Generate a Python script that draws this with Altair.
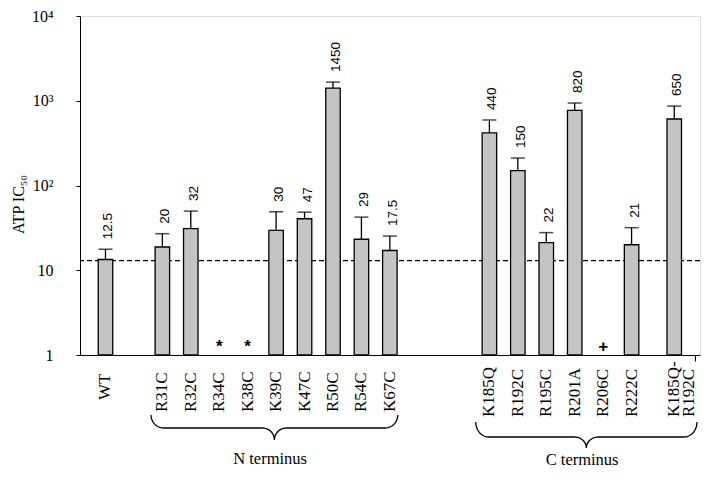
import altair as alt
import numpy as np
import pandas as pd

# ---------------- data ----------------
names = ["WT", "R31C", "R32C", "R34C", "K38C", "K39C", "K47C", "R50C", "R54C", "K67C",
         "K185Q", "R192C", "R195C", "R201A", "R206C", "R222C", "K185Q-\nR192C"]
groups = ["WT"] + ["N"] * 9 + ["C"] * 7
bar_values = [13.4, 18.8, 31, None, None, 29.5, 40.5, 1410, 23.2, 17.1,
              417, 150, 21.2, 769, None, 20, 609]
err_tops = [17.7, 27, 49.9, None, None, 49, 48.5, 1660, 42.4, 25.3,
            593, 211, 27.8, 940, None, 31.8, 865]
value_labels = ["12.5", "20", "32", "", "", "30", "47", "1450", "29", "17.5",
                "440", "150", "22", "820", "", "21", "650"]
markers = ["", "", "", "*", "*", "", "", "", "", "",
           "", "", "", "", "+", "", ""]
wt_reference = 13
group_titles = {"N": "N terminus", "C": "C terminus"}

# ---------------- layout (spacing between categories) ----------------
gap_before = [0, 2, 1, 1, 1, 1, 1, 1, 1, 1, 3.5, 1, 1, 1, 1, 1, 1.5]
slots = np.cumsum(gap_before)

df = pd.DataFrame({
    "name": names, "group": groups, "slot": slots,
    "value": bar_values, "err": err_tops,
    "label": value_labels, "marker": markers,
})
df_bars = df.dropna(subset=["value"])
df_marks = df[df["marker"] != ""]

X_MIN, X_MAX = -0.72, 20.73
x_scale = alt.Scale(domain=[X_MIN, X_MAX], nice=False, zero=False)
y_scale = alt.Scale(type="log", domain=[1, 10000], nice=False)
TITLE = "ATP IC₅₀"
SERIF = "Liberation Serif"
SANS = "Liberation Sans"

y_axis = alt.Axis(
    values=[1, 10, 100, 1000, 10000],
    labelExpr="datum.value == 1 ? '1' : datum.value == 10 ? '10' : datum.value == 100 ? '10²' : datum.value == 1000 ? '10³' : '10⁴'",
    labelFont=SERIF, labelFontSize=16, labelColor="black", labelPadding=23,
    tickSize=4, tickColor="black", domainColor="black", grid=False,
    titleFont=SERIF, titleFontSize=16, titleFontWeight="normal", titleColor="black",
    titleX=-62, titleY=188, titleAngle=270, titleAlign="center", titleBaseline="middle",
)
x_axis = alt.Axis(values=[X_MAX], labels=False, tickSize=6, tickColor="black",
                  domainColor="black", grid=False, title=None)

X = alt.X("slot:Q", scale=x_scale, axis=x_axis)

bars = alt.Chart(df_bars).mark_bar(size=14.5, fill="#c4c4c4", stroke="black", strokeWidth=1.3).encode(
    x=X,
    y=alt.Y("value:Q", scale=y_scale, axis=y_axis, title=TITLE),
    y2=alt.datum(1),
)
err_rule = alt.Chart(df_bars).mark_rule(color="black", strokeWidth=1.3).encode(
    x=X, y=alt.Y("value:Q", scale=y_scale, title=TITLE), y2="err:Q")
caps = alt.Chart(df_bars).mark_tick(orient="horizontal", size=14, thickness=1.5, color="black").encode(
    x=X, y=alt.Y("err:Q", scale=y_scale, title=TITLE))
vlabels = alt.Chart(df_bars).mark_text(angle=270, align="left", baseline="middle", dx=10, dy=3,
                                       font=SANS, fontSize=13.5, color="black").encode(
    x=X, y=alt.Y("err:Q", scale=y_scale, title=TITLE), text="label:N")
marks = alt.Chart(df_marks).mark_text(font=SANS, fontSize=17, fontWeight="bold", dy=-8,
                                      baseline="middle", color="black").encode(
    x=X, y=alt.datum(1, scale=y_scale), text="marker:N")
ref = alt.Chart(pd.DataFrame({"value": [wt_reference]})).mark_rule(
    color="black", strokeDash=[5, 3], strokeWidth=1.2).encode(
    y=alt.Y("value:Q", scale=y_scale, title=TITLE))

# category labels, bottom-anchored, per group
label_bottom = {"WT": 384, "N": 396, "C": 401}
cat_layers = []
for g, yb in label_bottom.items():
    cat_layers.append(
        alt.Chart(df[df["group"] == g]).mark_text(
            angle=270, align="left", baseline="middle", font=SERIF, fontSize=17,
            lineBreak="\n", lineHeight=15, color="black").encode(
            x=X, y=alt.value(yb), text="name:N"))

# braces under the groups
brace_style = {"N": dict(l=-0.4, r=0.28, ytop=399, yh=412, ytip=424, ytext=443),
               "C": dict(l=-0.48, r=0.8, ytop=406, yh=421, ytip=432, ytext=444)}
t = np.linspace(0, np.pi / 2, 14)
brace_rows = []
title_rows = []
for g, st in brace_style.items():
    s = df.loc[df["group"] == g, "slot"]
    x0, x1 = s.min() + st["l"], s.max() + st["r"]
    xm = (x0 + x1) / 2
    hr, tr = 0.45, 0.42
    ytop, yh, ytip = st["ytop"], st["yh"], st["ytip"]
    xs = np.concatenate([
        x0 + hr * (1 - np.cos(t)),
        xm - tr + tr * np.sin(t),
        xm + tr - tr * np.sin(t[::-1]),
        x1 - hr * (1 - np.cos(t[::-1])),
    ])
    ys = np.concatenate([
        ytop + (yh - ytop) * np.sin(t),
        yh + (ytip - yh) * (1 - np.cos(t)),
        yh + (ytip - yh) * (1 - np.cos(t[::-1])),
        ytop + (yh - ytop) * np.sin(t[::-1]),
    ])
    for i, (a, b) in enumerate(zip(xs, ys)):
        brace_rows.append({"g": g, "i": i, "bx": a, "by": b})
    title_rows.append({"g": g, "bx": xm - 0.15, "by": st["ytext"], "t": group_titles[g]})

brace_df = pd.DataFrame(brace_rows)
title_df = pd.DataFrame(title_rows)
py_scale = alt.Scale(domain=[0, 500], range=[0, 500], nice=False, zero=False)
braces = alt.Chart(brace_df).mark_line(color="black", strokeWidth=1.3).encode(
    x=alt.X("bx:Q", scale=x_scale, axis=x_axis),
    y=alt.Y("by:Q", scale=py_scale, axis=None),
    detail="g:N", order="i:Q")
brace_titles = alt.Chart(title_df).mark_text(font=SERIF, fontSize=16.5, baseline="middle",
                                             color="black").encode(
    x=alt.X("bx:Q", scale=x_scale, axis=x_axis),
    y=alt.Y("by:Q", scale=py_scale, axis=None),
    text="t:N")

main = alt.layer(ref, bars, err_rule, caps, vlabels, marks, *cat_layers)
deco = alt.layer(braces, brace_titles)

chart = alt.layer(main, deco).resolve_scale(y="independent").properties(
    width=620, height=339,
    autosize=alt.AutoSizeParams(type="none"),
    padding={"left": 72, "top": 8, "right": 12, "bottom": 116},
).configure_view(stroke=None).configure(background="white")

chart.save("out.html", embed_options={"renderer": "svg", "actions": False})
